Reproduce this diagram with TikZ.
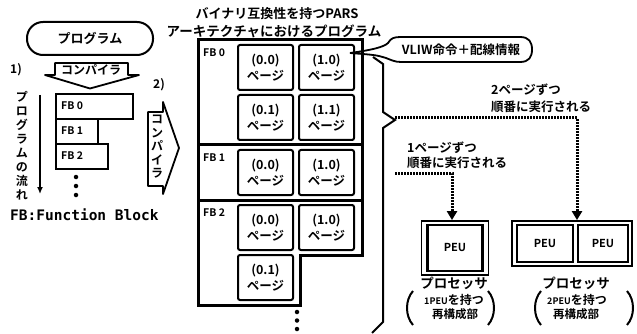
\documentclass[tikz,border=0pt]{standalone}
\usepackage{fontspec}
\IfFontExistsTF{Noto Sans CJK JP Bold}
  {\setmainfont{Noto Sans CJK JP Bold}}
  {\setmainfont{Noto Sans CJK JP}[FakeBold=3]}
\newfontfamily\monof{DejaVu Sans Mono}
\usetikzlibrary{arrows.meta}
\begin{document}
\begin{tikzpicture}[x=1pt,y=-1pt,
  txt/.style={inner sep=0pt, font=\fontsize{#1}{14}\selectfont},
  pg/.style={draw, line width=2pt, rounded corners=2pt, minimum width=55pt, minimum height=45pt,
     inner sep=0pt, align=center, font=\fontsize{12.5}{16.5}\selectfont},
  fbbox/.style={draw, line width=2.4pt, anchor=north west, inner sep=0pt},
  frame/.style={line width=3pt, line join=miter},
  shapeline/.style={line width=1.8pt, line join=round},
  dotline/.style={line width=3pt, dash pattern=on 2pt off 1pt, -{Triangle[width=10pt,length=9pt]}},
  outerp/.style={draw, line width=1.8pt, inner sep=0pt},
  innerp/.style={draw, line width=2.4pt, inner sep=0pt, font=\fontsize{11}{11}\selectfont},
  dotc/.style={fill, circle, inner sep=0pt, minimum size=4.5pt}
]
\useasboundingbox (0,0) rectangle (637,334);

% program stadium
\node[draw, line width=2pt, rounded corners=16pt, minimum width=126pt, minimum height=33pt,
      txt=13] (prog) at (90,38.5) {プログラム};

% 1) compiler arrow (down)
\node[txt=12] (one) at (16,70) {1)};
\draw[shapeline] (55,63) -- (128,63) -- (128,75) -- (139,75) -- (90,88.5) -- (45,75) -- (55,75) -- cycle;
\node[txt=12] (comp1) at (91,69.5) {コンパイラ};

% flow arrow
\coordinate (fs) at (40,95);
\coordinate (fe) at (40,194);
\draw[line width=1.8pt, -{Latex[length=7pt,width=6pt]}] (fs) -- (fe);
\node[inner sep=0pt, align=center, font=\fontsize{12}{14}\selectfont] (flow) at (22,146)
  {プ\\ロ\\グ\\ラ\\ム\\の\\流\\れ};

% left FB boxes
\node[fbbox, minimum width=77pt, minimum height=25pt] (fb0) at (55,93) {};
\node[fbbox, minimum width=42pt, minimum height=25pt] (fb1) at (55,118) {};
\node[fbbox, minimum width=52pt, minimum height=25pt] (fb2) at (55,143) {};
\node[txt=10.5, anchor=west] (fb0t) at (61,106) {FB 0};
\node[txt=10.5, anchor=west] (fb1t) at (61,131) {FB 1};
\node[txt=10.5, anchor=west] (fb2t) at (61,156) {FB 2};
\node[dotc] (ld1) at (76,177) {};
\node[dotc] (ld2) at (76,186) {};
\node[dotc] (ld3) at (76,195) {};

% 2) compiler arrow (right)
\node[txt=12] (two) at (159,85) {2)};
\draw[shapeline] (148,112) -- (163,112) -- (163,102) -- (179,148) -- (163,194) -- (163,186) -- (148,186) -- cycle;
\node[inner sep=0pt, align=center, font=\fontsize{12}{13.5}\selectfont] (comp2) at (157,147)
  {コ\\ン\\パ\\イ\\ラ};

% title
\node[txt=13] (title1) at (277,14) {バイナリ互換性を持つPARS};
\node[txt=13.5] (title2) at (274,31) {アーキテクチャにおけるプログラム};

% big frame
\draw[frame] (198,40) -- (362,40) -- (362,255) -- (300,255) -- (300,305) -- (198,305) -- cycle;
\draw[frame] (198,145) -- (362,145);
\draw[frame] (198,200) -- (362,200);
\node[txt=10.5, anchor=west] (f0) at (203,53) {FB 0};
\node[txt=10.5, anchor=west] (f1) at (203,158) {FB 1};
\node[txt=10.5, anchor=west] (f2) at (203,213) {FB 2};

% pages
\node[pg] (a00) at (265.5,67.5) {(0.0)\\ページ};
\node[pg] (a10) at (326.5,67.5) {(1.0)\\ページ};
\node[pg] (a01) at (265.5,117.5) {(0.1)\\ページ};
\node[pg] (a11) at (326.5,117.5) {(1.1)\\ページ};
\node[pg] (b00) at (265.5,172.5) {(0.0)\\ページ};
\node[pg] (b10) at (326.5,172.5) {(1.0)\\ページ};
\node[pg] (c00) at (265.5,227.5) {(0.0)\\ページ};
\node[pg] (c10) at (326.5,227.5) {(1.0)\\ページ};
\node[pg] (c01) at (265.5,277.5) {(0.1)\\ページ};
\node[dotc] (rd1) at (297,312) {};
\node[dotc] (rd2) at (297,320.5) {};
\node[dotc] (rd3) at (297,329) {};

% VLIW bubble
\draw[shapeline] (350,53) .. controls (372,50) and (384,47) .. (388,43)
   .. controls (391,38) and (394,37) .. (401,37) -- (520,37)
   .. controls (529,37) and (532,42) .. (532,49.5)
   .. controls (532,57) and (529,62) .. (520,62) -- (401,62)
   .. controls (395,62) and (391,60) .. (386,58)
   .. controls (376,55) .. (350,53);
\node[txt=12.5] (vliw) at (461,49.5) {VLIW命令＋配線情報};

% brace
\draw[line width=2pt, line join=miter] (373,57) -- (383,64) -- (383,112) -- (395,120) -- (383,128) -- (383,322) -- (372,333);

% texts
\node[txt=12.5, anchor=west] (t2a) at (491,90) {2ページずつ};
\node[txt=12.5, anchor=west] (t2b) at (491,107) {順番に実行される};
\node[txt=12.5, anchor=west] (t1a) at (407,148) {1ページずつ};
\node[txt=12.5, anchor=west] (t1b) at (407,163) {順番に実行される};

% processors
\node[outerp, minimum width=67pt, minimum height=54pt] (p1) at (455,248) {};
\node[innerp, minimum width=55pt, minimum height=46pt] (peu1) at (455,248) {PEU};
\node[outerp, minimum width=120pt, minimum height=45pt] (p2) at (572,243.5) {};
\node[innerp, minimum width=56pt, minimum height=37pt] (peu2a) at (545,243.5) {PEU};
\node[innerp, minimum width=50pt, minimum height=37pt] (peu2b) at (603,243.5) {PEU};

% dotted arrows
\coordinate (d2s) at (395,118);
\coordinate (d2c) at (577,118);
\draw[dotline] (d2s) -- (d2c) -- (d2c |- p2.north);
\coordinate (d1s) at (395,173);
\coordinate (d1c) at (452,173);
\draw[dotline] (d1s) -- (d1c) -- (d1c |- p1.north);

% processor labels
\node[txt=13.5] (pl1) at (454,283) {プロセッサ};
\node[txt=12] (pl1b) at (454,300) {{\fontsize{9}{9}\selectfont 1PEU}を持つ};
\node[txt=11.5] (pl1c) at (455,314) {再構成部};
\draw[line width=2pt] (413,291) .. controls (405,300) and (405,316) .. (413,325);
\draw[line width=2pt] (488,291) .. controls (496,300) and (496,316) .. (488,325);

\node[txt=13.5] (pl2) at (576,283) {プロセッサ};
\node[txt=12] (pl2b) at (577,300) {{\fontsize{9}{9}\selectfont 2PEU}を持つ};
\node[txt=11.5] (pl2c) at (576,314) {再構成部};
\draw[line width=2pt] (541,291) .. controls (533,300) and (533,316) .. (541,325);
\draw[line width=2pt] (627,291) .. controls (635,300) and (635,316) .. (627,325);

% legend
\node[inner sep=0pt, anchor=west, font=\monof\bfseries\fontsize{14.5}{14.5}\selectfont] (legend) at (10,215) {FB:Function Block};
\end{tikzpicture}
\end{document}
